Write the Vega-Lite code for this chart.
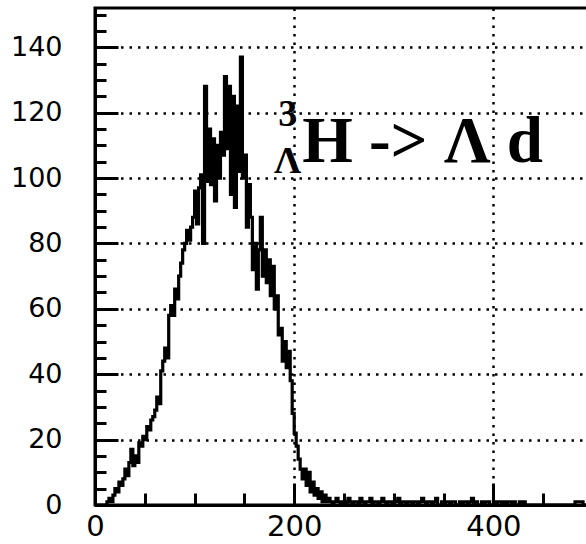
{
"$schema": "https://vega.github.io/schema/vega-lite/v6.json",
"width": 493, "height": 497,
"autosize": "none",
"padding": {"left": 95, "top": 8, "right": 0, "bottom": 39},
"background": "white",
"config": {"view": {"stroke": "black", "strokeWidth": 3}},
"data": {"values": [
{"bin":0,"count":0},{"bin":2,"count":0},{"bin":4,"count":0},{"bin":6,"count":0},{"bin":8,"count":0},{"bin":10,"count":0},{"bin":12,"count":1},{"bin":14,"count":2},{"bin":16,"count":1},{"bin":18,"count":3},
{"bin":20,"count":5},{"bin":22,"count":4},{"bin":24,"count":7},{"bin":26,"count":6},{"bin":28,"count":8},{"bin":30,"count":11},{"bin":32,"count":9},{"bin":34,"count":13},{"bin":36,"count":17},{"bin":38,"count":12},
{"bin":40,"count":15},{"bin":42,"count":13},{"bin":44,"count":19},{"bin":46,"count":18},{"bin":48,"count":21},{"bin":50,"count":20},{"bin":52,"count":24},{"bin":54,"count":23},{"bin":56,"count":26},{"bin":58,"count":27},
{"bin":60,"count":29},{"bin":62,"count":33},{"bin":64,"count":31},{"bin":66,"count":41},{"bin":68,"count":44},{"bin":70,"count":48},{"bin":72,"count":45},{"bin":74,"count":58},{"bin":76,"count":61},{"bin":78,"count":58},
{"bin":80,"count":66},{"bin":82,"count":63},{"bin":84,"count":70},{"bin":86,"count":74},{"bin":88,"count":78},{"bin":90,"count":80},{"bin":92,"count":84},{"bin":94,"count":81},{"bin":96,"count":85},{"bin":98,"count":88},
{"bin":100,"count":96},{"bin":102,"count":86},{"bin":104,"count":97},{"bin":106,"count":101},{"bin":108,"count":80},{"bin":110,"count":128},{"bin":112,"count":99},{"bin":114,"count":115},{"bin":116,"count":98},{"bin":118,"count":112},
{"bin":120,"count":93},{"bin":122,"count":110},{"bin":124,"count":100},{"bin":126,"count":114},{"bin":128,"count":107},{"bin":130,"count":131},{"bin":132,"count":109},{"bin":134,"count":128},{"bin":136,"count":95},{"bin":138,"count":125},
{"bin":140,"count":91},{"bin":142,"count":122},{"bin":144,"count":102},{"bin":146,"count":137},{"bin":148,"count":100},{"bin":150,"count":107},{"bin":152,"count":85},{"bin":154,"count":98},{"bin":156,"count":88},{"bin":158,"count":72},
{"bin":160,"count":80},{"bin":162,"count":66},{"bin":164,"count":78},{"bin":166,"count":88},{"bin":168,"count":70},{"bin":170,"count":78},{"bin":172,"count":68},{"bin":174,"count":75},{"bin":176,"count":64},{"bin":178,"count":73},
{"bin":180,"count":60},{"bin":182,"count":64},{"bin":184,"count":52},{"bin":186,"count":54},{"bin":188,"count":44},{"bin":190,"count":50},{"bin":192,"count":42},{"bin":194,"count":47},{"bin":196,"count":38},{"bin":198,"count":28},
{"bin":200,"count":22},{"bin":202,"count":18},{"bin":204,"count":14},{"bin":206,"count":11},{"bin":208,"count":8},{"bin":210,"count":11},{"bin":212,"count":6},{"bin":214,"count":10},{"bin":216,"count":4},{"bin":218,"count":7},
{"bin":220,"count":3},{"bin":222,"count":5},{"bin":224,"count":2},{"bin":226,"count":4},{"bin":228,"count":1},{"bin":230,"count":3},{"bin":232,"count":1},{"bin":234,"count":2},{"bin":236,"count":1},{"bin":238,"count":0},
{"bin":240,"count":1},{"bin":242,"count":2},{"bin":244,"count":1},{"bin":246,"count":0},{"bin":248,"count":1},{"bin":250,"count":1},{"bin":252,"count":0},{"bin":254,"count":2},{"bin":256,"count":1},{"bin":258,"count":0},
{"bin":260,"count":1},{"bin":262,"count":1},{"bin":264,"count":0},{"bin":266,"count":2},{"bin":268,"count":1},{"bin":270,"count":0},{"bin":272,"count":1},{"bin":274,"count":1},{"bin":276,"count":2},{"bin":278,"count":0},
{"bin":280,"count":1},{"bin":282,"count":1},{"bin":284,"count":0},{"bin":286,"count":1},{"bin":288,"count":2},{"bin":290,"count":1},{"bin":292,"count":0},{"bin":294,"count":1},{"bin":296,"count":1},{"bin":298,"count":0},
{"bin":300,"count":1},{"bin":302,"count":1},{"bin":304,"count":2},{"bin":306,"count":0},{"bin":308,"count":1},{"bin":310,"count":1},{"bin":312,"count":0},{"bin":314,"count":1},{"bin":316,"count":1},{"bin":318,"count":0},
{"bin":320,"count":1},{"bin":322,"count":1},{"bin":324,"count":0},{"bin":326,"count":1},{"bin":328,"count":2},{"bin":330,"count":1},{"bin":332,"count":0},{"bin":334,"count":1},{"bin":336,"count":1},{"bin":338,"count":0},
{"bin":340,"count":1},{"bin":342,"count":2},{"bin":344,"count":0},{"bin":346,"count":0},{"bin":348,"count":1},{"bin":350,"count":0},{"bin":352,"count":1},{"bin":354,"count":1},{"bin":356,"count":0},{"bin":358,"count":1},
{"bin":360,"count":1},{"bin":362,"count":0},{"bin":364,"count":0},{"bin":366,"count":1},{"bin":368,"count":0},{"bin":370,"count":1},{"bin":372,"count":1},{"bin":374,"count":0},{"bin":376,"count":1},{"bin":378,"count":2},
{"bin":380,"count":0},{"bin":382,"count":1},{"bin":384,"count":0},{"bin":386,"count":0},{"bin":388,"count":1},{"bin":390,"count":0},{"bin":392,"count":1},{"bin":394,"count":1},{"bin":396,"count":0},{"bin":398,"count":0},
{"bin":400,"count":1},{"bin":402,"count":0},{"bin":404,"count":1},{"bin":406,"count":1},{"bin":408,"count":0},{"bin":410,"count":1},{"bin":412,"count":0},{"bin":414,"count":1},{"bin":416,"count":1},{"bin":418,"count":0},
{"bin":420,"count":1},{"bin":422,"count":0},{"bin":424,"count":0},{"bin":426,"count":1},{"bin":428,"count":0},{"bin":430,"count":1},{"bin":432,"count":0},{"bin":434,"count":0},{"bin":436,"count":0},{"bin":438,"count":0},
{"bin":440,"count":0},{"bin":442,"count":0},{"bin":444,"count":0},{"bin":446,"count":0},{"bin":448,"count":0},{"bin":450,"count":0},{"bin":452,"count":0},{"bin":454,"count":0},{"bin":456,"count":0},{"bin":458,"count":0},
{"bin":460,"count":0},{"bin":462,"count":0},{"bin":464,"count":0},{"bin":466,"count":0},{"bin":468,"count":0},{"bin":470,"count":0},{"bin":472,"count":0},{"bin":474,"count":0},{"bin":476,"count":0},{"bin":478,"count":0},
{"bin":480,"count":0},{"bin":482,"count":1},{"bin":484,"count":1},{"bin":486,"count":1},{"bin":488,"count":1},{"bin":490,"count":0},{"bin":492,"count":0},{"bin":494,"count":0}
]},
"layer": [
{"mark": {"type": "line", "interpolate": "step-after", "color": "black", "strokeWidth": 3.2},
 "encoding": {
  "x": {"field": "bin", "type": "quantitative", "scale": {"domain": [0, 495], "nice": false, "zero": false},
        "axis": {"orient": "bottom", "values": [0, 200, 400], "title": null, "ticks": false, "tickSize": 0, "domain": true, "domainColor": "black", "domainWidth": 3,
                 "labelFont": "DejaVu Sans", "labelFontSize": 29, "labelColor": "black", "labelPadding": 7, "labelFlush": false,
                 "grid": true, "gridColor": "black", "gridDash": [2.5, 6], "gridWidth": 2.5, "gridOpacity": 1}},
  "y": {"field": "count", "type": "quantitative", "scale": {"domain": [0, 152], "nice": false},
        "axis": {"orient": "left", "values": [0, 20, 40, 60, 80, 100, 120, 140], "title": null, "ticks": false, "tickSize": 0, "domain": true, "domainColor": "black", "domainWidth": 3,
                 "labelFont": "DejaVu Sans", "labelFontSize": 27, "labelColor": "black", "labelPadding": 33, "labelFlush": false,
                 "grid": true, "gridColor": "black", "gridDash": [2.5, 6], "gridWidth": 2.5, "gridOpacity": 1}}
 }},
{"mark": {"type": "line", "strokeOpacity": 0},
 "encoding": {
  "x": {"field": "bin", "type": "quantitative",
        "axis": {"orient": "bottom", "values": [0, 200, 400], "title": null, "labels": false, "domain": false, "grid": false, "ticks": true, "tickSize": -22, "tickWidth": 3, "tickColor": "black"}},
  "y": {"field": "count", "type": "quantitative",
        "axis": {"orient": "left", "values": [0, 20, 40, 60, 80, 100, 120, 140], "title": null, "labels": false, "domain": false, "grid": false, "ticks": true, "tickSize": -23, "tickWidth": 3, "tickColor": "black"}}
 }},
{"mark": {"type": "line", "strokeOpacity": 0},
 "encoding": {
  "x": {"field": "bin", "type": "quantitative",
        "axis": {"orient": "bottom", "values": [50, 100, 150, 250, 300, 350, 450], "title": null, "labels": false, "domain": false, "grid": false, "ticks": true, "tickSize": -12, "tickWidth": 3, "tickColor": "black"}},
  "y": {"field": "count", "type": "quantitative",
        "axis": {"orient": "left", "values": [5, 10, 15, 25, 30, 35, 45, 50, 55, 65, 70, 75, 85, 90, 95, 105, 110, 115, 125, 130, 135, 145, 150], "title": null, "labels": false, "domain": false, "grid": false, "ticks": true, "tickSize": -11, "tickWidth": 3, "tickColor": "black"}}
 }},
{"data": {"values": [{"label": "H -> Λ d"}]},
 "mark": {"type": "text", "font": "Liberation Serif", "fontWeight": "bold", "fontSize": 65, "align": "left", "baseline": "alphabetic", "color": "black"},
 "encoding": {"text": {"field": "label"}, "x": {"datum": 208, "type": "quantitative", "axis": null}, "y": {"datum": 105, "type": "quantitative", "axis": null}}},
{"data": {"values": [{"label": "3"}]},
 "mark": {"type": "text", "font": "Liberation Serif", "fontWeight": "bold", "fontSize": 38, "align": "center", "baseline": "alphabetic", "color": "black"},
 "encoding": {"text": {"field": "label"}, "x": {"datum": 193.5, "type": "quantitative", "axis": null}, "y": {"datum": 115.8, "type": "quantitative", "axis": null}}},
{"data": {"values": [{"label": "Λ"}]},
 "mark": {"type": "text", "font": "Liberation Serif", "fontWeight": "bold", "fontSize": 38, "align": "center", "baseline": "alphabetic", "color": "black"},
 "encoding": {"text": {"field": "label"}, "x": {"datum": 193.5, "type": "quantitative", "axis": null}, "y": {"datum": 101.5, "type": "quantitative", "axis": null}}}
],
"resolve": {"axis": {"x": "independent", "y": "independent"}}
}
